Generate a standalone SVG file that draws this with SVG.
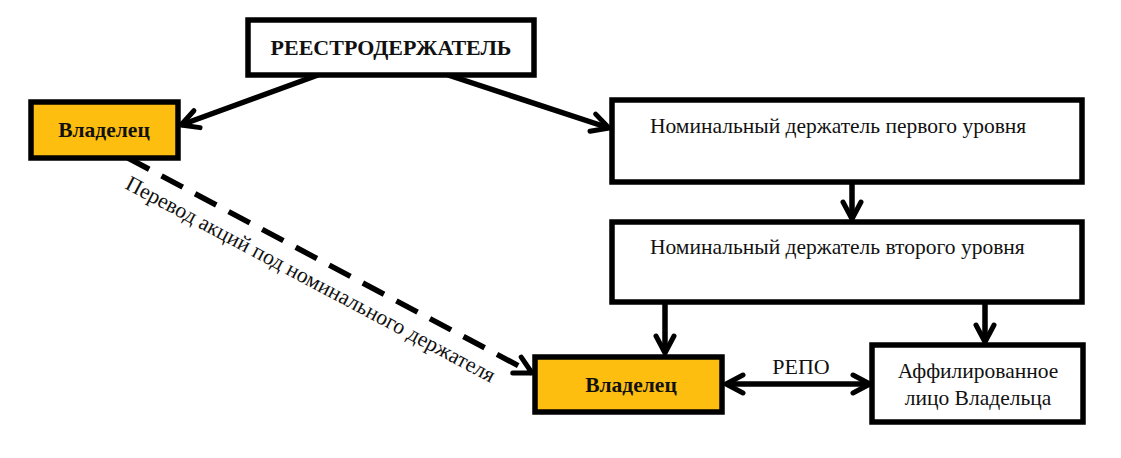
<svg xmlns="http://www.w3.org/2000/svg" width="1121" height="458" viewBox="0 0 1121 458">
<style>
.box{stroke:#000;stroke-width:5.5;}
.w{fill:#fff;}
.o{fill:#FDBE0F;}
.t{font-family:"Liberation Serif","Times New Roman",serif;fill:#111;}
.b{font-weight:bold;}
.c{stroke:#000;stroke-width:5.5;fill:none;}
</style>
<defs>
<marker id="ah" viewBox="0 0 24 24" refX="21" refY="12" markerWidth="24" markerHeight="24" markerUnits="userSpaceOnUse" orient="auto-start-reverse">
<path d="M4,3 L21,12 L4,21" fill="none" stroke="#000" stroke-width="5" stroke-linecap="round" stroke-linejoin="round"/>
</marker>
</defs>
<rect width="1121" height="458" fill="#fff"/>
<g id="connectors">
<line class="c" x1="318" y1="75" x2="181" y2="125" marker-end="url(#ah)"/>
<line class="c" x1="448" y1="75" x2="609" y2="128" marker-end="url(#ah)"/>
<line class="c" x1="852" y1="182" x2="852" y2="219" marker-end="url(#ah)"/>
<line class="c" x1="665" y1="302" x2="665" y2="353" marker-end="url(#ah)"/>
<line class="c" x1="985" y1="302" x2="985" y2="342" marker-end="url(#ah)"/>
<line class="c" x1="726" y1="384" x2="870" y2="384" marker-start="url(#ah)" marker-end="url(#ah)"/>
<line class="c" x1="128" y1="158" x2="532" y2="373" stroke-dasharray="24 14" marker-end="url(#ah)"/>
<text class="t" x="801" y="374" font-size="22" text-anchor="middle">РЕПО</text>
<text class="t" x="0" y="0" font-size="21.8" transform="translate(124,188) rotate(28)">Перевод акций под номинального держателя</text>
</g>
<g id="registrar">
<rect class="box w" x="248" y="20" width="286" height="55"/>
<text class="t b" x="391" y="55" font-size="22" text-anchor="middle">РЕЕСТРОДЕРЖАТЕЛЬ</text>
</g>
<g id="owner1">
<rect class="box o" x="31" y="102" width="147" height="56"/>
<text class="t b" x="104" y="137" font-size="21.5" text-anchor="middle">Владелец</text>
</g>
<g id="nominal1">
<rect class="box w" x="612" y="100" width="470" height="82"/>
<text class="t" x="650" y="133" font-size="21.5">Номинальный держатель первого уровня</text>
</g>
<g id="nominal2">
<rect class="box w" x="612" y="222" width="470" height="80"/>
<text class="t" x="650" y="254" font-size="21.5">Номинальный держатель второго уровня</text>
</g>
<g id="owner2">
<rect class="box o" x="535" y="357" width="187" height="55"/>
<text class="t b" x="631" y="392" font-size="21.5" text-anchor="middle">Владелец</text>
</g>
<g id="affiliate">
<rect class="box w" x="872" y="345" width="211" height="77"/>
<text class="t" x="978" y="378" font-size="21.5" text-anchor="middle">Аффилированное</text>
<text class="t" x="978" y="405" font-size="21.5" text-anchor="middle">лицо Владельца</text>
</g>
</svg>
